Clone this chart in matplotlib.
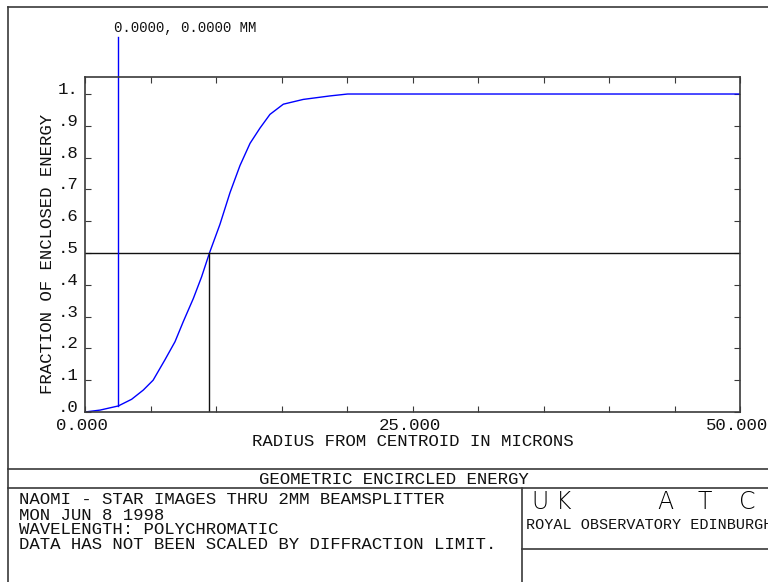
import numpy as np
import matplotlib
matplotlib.use("Agg")
import matplotlib.pyplot as plt
from matplotlib.lines import Line2D
from matplotlib.transforms import ScaledTranslation, blended_transform_factory

# Encircled energy curve (radius in microns, enclosed fraction)
radius = [0.0, 1.15, 2.54, 3.56, 4.45, 5.2, 6.1, 6.87, 7.5, 8.27, 8.9, 9.5,
          10.3, 11.07, 11.83, 12.6, 13.36, 14.12, 15.14, 16.66, 18.7, 20.05, 50.0]
fraction = [0.0, 0.006, 0.019, 0.04, 0.069, 0.10, 0.164, 0.221, 0.284, 0.357, 0.425, 0.50,
            0.59, 0.69, 0.775, 0.845, 0.893, 0.936, 0.968, 0.983, 0.994, 1.0, 1.0]

half_energy_radius = 9.5
half_energy_fraction = 0.5
marker_radius = 2.54
marker_label = "0.0000, 0.0000 MM"

x_ticks = [0, 5, 10, 15, 20, 25, 30, 35, 40, 45, 50]
x_tick_labels = ["0.000", "", "", "", "", "25.000", "", "", "", "", "50.000"]
y_ticks = [0.0, 0.1, 0.2, 0.3, 0.4, 0.5, 0.6, 0.7, 0.8, 0.9, 1.0]
y_tick_labels = [".0", ".1", ".2", ".3", ".4", ".5", ".6", ".7", ".8", ".9", "1."]

title = "GEOMETRIC ENCIRCLED ENERGY"
x_label = "RADIUS FROM CENTROID IN MICRONS"
y_label = "FRACTION OF ENCLOSED ENERGY"
notes = ["NAOMI - STAR IMAGES THRU 2MM BEAMSPLITTER",
         "MON JUN 8 1998",
         "WAVELENGTH: POLYCHROMATIC",
         "DATA HAS NOT BEEN SCALED BY DIFFRACTION LIMIT."]
logo_letters = ["U", "K", "A", "T", "C"]
institute = "ROYAL OBSERVATORY EDINBURGH"

W, H = 768, 582
INK = "#111111"
FRAME = "#3a3a3a"
BLUE = "#0000ff"
MONO = "Liberation Mono"
FS = 12.5

fig = plt.figure(figsize=(W / 100, H / 100), dpi=100)


def fx(px):
    return px / W


def fy(py):
    return 1 - py / H


def hline(y, x0, x1, lw=1.2):
    fig.add_artist(Line2D([fx(x0), fx(x1)], [fy(y), fy(y)], color=FRAME, lw=lw))


def vline(x, y0, y1, lw=1.2):
    fig.add_artist(Line2D([fx(x), fx(x)], [fy(y0), fy(y1)], color=FRAME, lw=lw))


# Drawing sheet border and title block
hline(7, 8, 768)
vline(8, 7, 582)
hline(469, 8, 768)
hline(488, 8, 768)
vline(522, 488, 582)
hline(549, 522, 768)

# Plot area
ax = fig.add_axes([fx(85), fy(412), fx(740) - fx(85), fy(77) - fy(412)])
ax.set_xlim(0, 50)
ax.set_ylim(0, 1.0535)
for side in ("left", "right", "bottom", "top"):
    ax.spines[side].set_color(FRAME)
    ax.spines[side].set_linewidth(1.2)

ax.set_xticks(x_ticks)
ax.set_xticklabels(x_tick_labels, family=MONO, fontsize=FS, color=INK)
ax.set_yticks(y_ticks)
ax.set_yticklabels(y_tick_labels, family=MONO, fontsize=FS, color=INK)
ax.tick_params(axis="both", direction="in", length=4.5, width=0.8, color=FRAME,
               top=True, right=True)
ax.tick_params(axis="x", pad=4.5)
ax.tick_params(axis="y", pad=5)
for lbl in ax.get_yticklabels():
    lbl.set_transform(lbl.get_transform() + ScaledTranslation(0, 6 / 100, fig.dpi_scale_trans))
for lbl in ax.get_xticklabels():
    lbl.set_transform(lbl.get_transform() + ScaledTranslation(-3 / 100, 0, fig.dpi_scale_trans))

ax.plot(radius, fraction, color=BLUE, lw=1.0)

# Half-energy guide lines
ax.axhline(half_energy_fraction, color=INK, lw=1.0)
ax.plot([half_energy_radius, half_energy_radius], [0, half_energy_fraction], color=INK, lw=1.0)

# Centroid marker line and label
marker_y = float(np.interp(marker_radius, radius, fraction))
bt = blended_transform_factory(ax.transData, ax.transAxes)
ax.plot([marker_radius, marker_radius], [marker_y / 1.0535, 1.119], transform=bt,
        color=BLUE, lw=1.0, clip_on=False)
ax.text(marker_radius, 1.146, marker_label,
        transform=bt + ScaledTranslation(-4 / 100, 0, fig.dpi_scale_trans),
        ha="left", va="center", family=MONO, fontsize=10.1, color=INK)

fig.text(fx(412.5), fy(441), x_label, ha="center", va="center", family=MONO, fontsize=FS, color=INK)
fig.text(fx(48), fy(254), y_label, ha="center", va="center", rotation=90,
         family=MONO, fontsize=FS, color=INK)

# Title block text
fig.text(fx(393.5), fy(479), title, ha="center", va="center", family=MONO, fontsize=FS, color=INK)
for line, y in zip(notes, [500, 515, 530, 544.5]):
    fig.text(fx(19), fy(y), line, ha="left", va="center", family=MONO, fontsize=FS,
             color=INK, linespacing=1.0)

for letter, x in zip(logo_letters, [531, 556, 657, 698, 739]):
    fig.text(fx(x), fy(502), letter, ha="left", va="center", family="DejaVu Sans",
             fontweight="light", fontsize=17, color="#000000")
fig.text(fx(526), fy(525), institute, ha="left", va="center", family=MONO,
         fontsize=10.9, color=INK)

fig.savefig("out.png", dpi=100)
